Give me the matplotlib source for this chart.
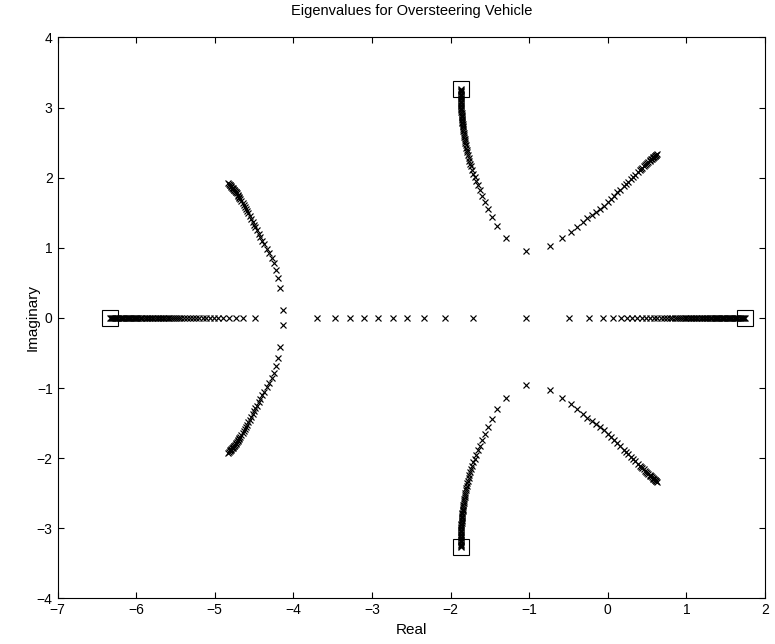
import numpy as np
import matplotlib
matplotlib.use('Agg')
import matplotlib.pyplot as plt

plt.rcParams['font.family'] = ['Liberation Sans', 'DejaVu Sans']

# real-axis branch on the left (from the pole at -6.33 to the right)
left_real = [-6.33, -6.32, -6.31, -6.30, -6.285, -6.27, -6.255, -6.24, -6.225, -6.21,
             -6.195, -6.18, -6.165, -6.15, -6.135, -6.12, -6.105, -6.09, -6.075, -6.06,
             -6.045, -6.03, -6.015, -6.00, -5.985, -5.97, -5.955, -5.94, -5.92, -5.90,
             -5.88, -5.86, -5.84, -5.82, -5.80, -5.78, -5.76, -5.74, -5.72, -5.70,
             -5.68, -5.66, -5.64, -5.62, -5.60, -5.58, -5.555, -5.53, -5.505, -5.48,
             -5.455, -5.425, -5.39, -5.355, -5.32, -5.28, -5.24, -5.20, -5.155, -5.11,
             -5.06, -5.01, -4.954, -4.891, -4.814, -4.733, -4.644, -4.487]

# real eigenvalues in the middle
mid_real = [-3.695, -3.469, -3.279, -3.101, -2.922, -2.735, -2.550, -2.337,
            -2.070, -1.710, -1.039]

# real-axis branch on the right (up to the pole at 1.747)
right_real = [-0.489, -0.234, -0.056, 0.071, 0.166, 0.242, 0.313, 0.377, 0.436,
              0.49, 0.54, 0.585, 0.63, 0.67, 0.71, 0.75, 0.785, 0.82, 0.85, 0.88,
              0.905, 0.93, 0.955, 0.98, 1.00, 1.02, 1.04, 1.06, 1.08, 1.10, 1.12,
              1.14, 1.16, 1.18, 1.20, 1.22, 1.24, 1.26, 1.28, 1.30, 1.315, 1.33,
              1.345, 1.36, 1.375, 1.39, 1.405, 1.42, 1.435, 1.45, 1.465, 1.48, 1.495,
              1.51, 1.525, 1.54, 1.555, 1.57, 1.585, 1.60, 1.615, 1.63, 1.645, 1.66,
              1.675, 1.69, 1.705, 1.72, 1.735, 1.747]

# left complex pair (upper half)
left_cx_re = [-4.135, -4.169, -4.19, -4.22, -4.242, -4.276, -4.311, -4.340, -4.370,
              -4.395, -4.419, -4.442, -4.464, -4.482, -4.500, -4.518, -4.536,
              -4.553, -4.571, -4.584, -4.598, -4.614, -4.630, -4.646, -4.662,
              -4.678, -4.686, -4.694, -4.702, -4.710, -4.718, -4.727, -4.735,
              -4.742, -4.750, -4.758, -4.765, -4.773, -4.781, -4.788, -4.796,
              -4.804, -4.812, -4.820, -4.827]
left_cx_im = [0.107, 0.42, 0.575, 0.69, 0.79, 0.86, 0.93, 0.99, 1.05, 1.10, 1.15,
              1.20, 1.25, 1.29, 1.33, 1.37, 1.41, 1.45, 1.49, 1.52, 1.55, 1.58,
              1.61, 1.64, 1.67, 1.70, 1.715, 1.73, 1.745, 1.76, 1.775, 1.79, 1.80,
              1.81, 1.82, 1.83, 1.84, 1.85, 1.86, 1.87, 1.88, 1.89, 1.90, 1.91, 1.92]

# top complex pair (upper half)
top_cx_re = [-1.043, -1.298, -1.405, -1.476, -1.52, -1.561, -1.603, -1.63, -1.655,
             -1.675, -1.695, -1.71, -1.725, -1.738, -1.75, -1.76, -1.77, -1.78,
             -1.788, -1.796, -1.801, -1.806, -1.811, -1.816, -1.820, -1.825, -1.829,
             -1.833, -1.837, -1.840, -1.843, -1.845, -1.847, -1.849, -1.851, -1.853,
             -1.855, -1.856, -1.858, -1.859, -1.861, -1.862, -1.864, -1.865, -1.866,
             -1.867, -1.868, -1.869, -1.870, -1.870, -1.871, -1.871, -1.872, -1.872,
             -1.873, -1.873, -1.873, -1.873, -1.873]
top_cx_im = [0.96, 1.146, 1.305, 1.445, 1.56, 1.66, 1.74, 1.82, 1.89, 1.95, 2.01,
             2.06, 2.11, 2.16, 2.20, 2.24, 2.28, 2.32, 2.36, 2.40, 2.43, 2.46, 2.49,
             2.52, 2.55, 2.58, 2.61, 2.64, 2.67, 2.70, 2.72, 2.74, 2.76, 2.78, 2.80,
             2.82, 2.84, 2.86, 2.88, 2.90, 2.92, 2.94, 2.96, 2.98, 3.00, 3.02, 3.04,
             3.06, 3.08, 3.10, 3.12, 3.14, 3.16, 3.18, 3.20, 3.22, 3.24, 3.255, 3.27]

# right complex pair (upper half)
right_cx_re = [-0.734, -0.578, -0.47, -0.395, -0.32, -0.26, -0.20, -0.15, -0.10,
               -0.05, 0.00, 0.04, 0.08, 0.12, 0.16, 0.20, 0.23, 0.26, 0.29, 0.32,
               0.35, 0.38, 0.41, 0.425, 0.44, 0.455, 0.47, 0.485, 0.50, 0.515, 0.53,
               0.54, 0.55, 0.56, 0.57, 0.58, 0.59, 0.598, 0.605, 0.612, 0.618, 0.623]
right_cx_im = [1.03, 1.14, 1.23, 1.30, 1.37, 1.42, 1.47, 1.51, 1.55, 1.60, 1.65,
               1.70, 1.74, 1.79, 1.83, 1.88, 1.91, 1.94, 1.98, 2.01, 2.04, 2.08,
               2.11, 2.125, 2.14, 2.16, 2.18, 2.195, 2.21, 2.225, 2.24, 2.25, 2.26,
               2.27, 2.28, 2.29, 2.30, 2.31, 2.315, 2.32, 2.33, 2.34]

# end points marked with squares
sq_re = [-6.33, 1.747, -1.873, -1.873]
sq_im = [0.0, 0.0, 3.27, -3.27]

fig = plt.figure(figsize=(7.75, 6.44), dpi=100)
ax = fig.add_axes([0.0742, 0.0708, 0.913, 0.871])

xkw = dict(marker='x', linestyle='none', color='black', markersize=5, markeredgewidth=0.85)

for re in [left_real, mid_real, right_real]:
    ax.plot(re, np.zeros(len(re)), **xkw)

for re, im in [(left_cx_re, left_cx_im), (top_cx_re, top_cx_im), (right_cx_re, right_cx_im)]:
    ax.plot(re, im, **xkw)
    ax.plot(re, -np.array(im), **xkw)

ax.plot(sq_re, sq_im, marker='s', linestyle='none', markersize=11,
        markerfacecolor='none', markeredgecolor='black', markeredgewidth=0.8)

ax.set_xlim(-7, 2)
ax.set_ylim(-4, 4)
ax.set_xticks(np.arange(-7, 3, 1))
ax.set_yticks(np.arange(-4, 5, 1))
ax.tick_params(direction='in', top=True, right=True, labelsize=10, length=4)
for s in ax.spines.values():
    s.set_linewidth(0.8)

ax.set_title('Eigenvalues for Oversteering Vehicle', fontsize=10.5, pad=16)
ax.set_xlabel('Real', fontsize=11, labelpad=4)
ax.set_ylabel('Imaginary', fontsize=11, labelpad=-2)

fig.savefig('out.png', dpi=100)
